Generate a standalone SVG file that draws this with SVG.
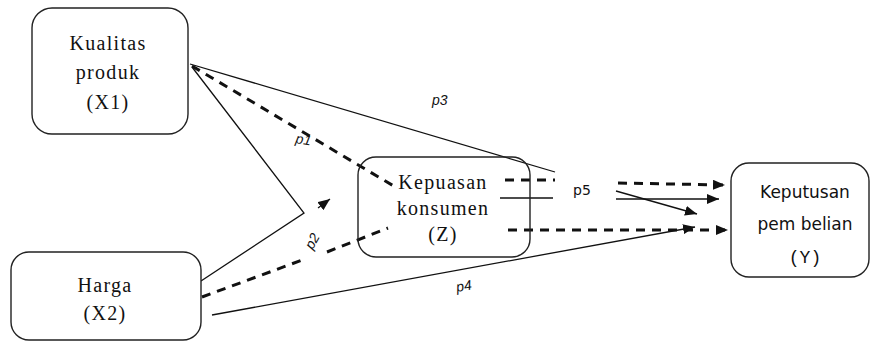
<svg xmlns="http://www.w3.org/2000/svg" width="871" height="342" viewBox="0 0 871 342">
<style>
.box{fill:#fff;stroke:#222;stroke-width:1.4}
.ser{font-family:"Liberation Serif","Times New Roman",serif;font-size:20px;letter-spacing:1.3px;fill:#111;text-anchor:middle}
.san{font-family:"DejaVu Sans",Verdana,sans-serif;font-size:17px;fill:#111;text-anchor:middle}
.mono{font-family:"Liberation Mono","Courier New",monospace;font-size:18px;fill:#111;text-anchor:middle}
.sol{fill:none;stroke:#111;stroke-width:1.3}
.dash{fill:none;stroke:#111;stroke-width:3;stroke-dasharray:9 7}
.lbl{font-family:"Liberation Sans",Arial,sans-serif;font-size:14px;font-style:italic;fill:#111}
.lbl2{font-family:"DejaVu Sans",sans-serif;font-size:14px;fill:#111}
</style>
<defs>
<marker id="ah" markerUnits="userSpaceOnUse" markerWidth="12" markerHeight="10" refX="12" refY="5" orient="auto">
<path d="M0,0 L12,5 L0,10 z" fill="#111"/>
</marker>
</defs>
<g id="connectors">
<path class="sol" d="M190,64 L555,172"/>
<path class="dash" d="M192,66 L397,188"/>
<path class="sol" d="M192,67 L304,213 L201,281"/>
<path class="sol" d="M318,208 L330,199" marker-end="url(#ah)"/>
<path class="dash" d="M202,297 L305,259"/>
<path class="dash" d="M327,252 L388,228"/>
<path class="sol" d="M212,315 L695,227" marker-end="url(#ah)"/>
<path class="dash" d="M505,180 L555,180"/>
<path class="sol" d="M500,198 L553,198"/>
<path class="dash" d="M508,230 L728,230" marker-end="url(#ah)"/>
<path class="dash" d="M618,183 L725,185" marker-end="url(#ah)"/>
<path class="sol" d="M616,199 L719,199" marker-end="url(#ah)"/>
<path class="sol" d="M616,191 L697,214" marker-end="url(#ah)"/>
<text class="lbl" x="432" y="105">p3</text>
<text class="lbl" x="295" y="143" transform="rotate(10 295 143)">p1</text>
<text class="lbl" x="312" y="246" text-anchor="middle" transform="rotate(-60 312 241)">p2</text>
<text class="lbl" x="457" y="292" transform="rotate(-10 457 292)">p4</text>
<text class="lbl2" x="573" y="195">p5</text>
</g>
<g id="x1">
<rect class="box" x="32" y="8" width="156" height="126" rx="20"/>
<text class="ser" x="108" y="50">Kualitas</text>
<text class="ser" x="108" y="79">produk</text>
<text class="ser" x="108" y="109">(X1)</text>
</g>
<g id="x2">
<rect class="box" x="11" y="252" width="190" height="88" rx="18"/>
<text class="ser" x="105" y="292">Harga</text>
<text class="ser" x="105" y="320">(X2)</text>
</g>
<g id="z">
<rect class="box" x="358" y="157" width="172" height="100" rx="18" style="fill:none"/>
<text class="ser" x="443" y="189">Kepuasan</text>
<text class="ser" x="443" y="215">konsumen</text>
<text class="ser" x="443" y="241">(Z)</text>
</g>
<g id="y">
<rect class="box" x="731" y="163" width="138" height="114" rx="18"/>
<text class="san" x="805" y="198">Keputusan</text>
<text class="san" x="805" y="230">pem belian</text>
<text class="mono" x="805" y="263">(Y)</text>
</g>
</svg>
